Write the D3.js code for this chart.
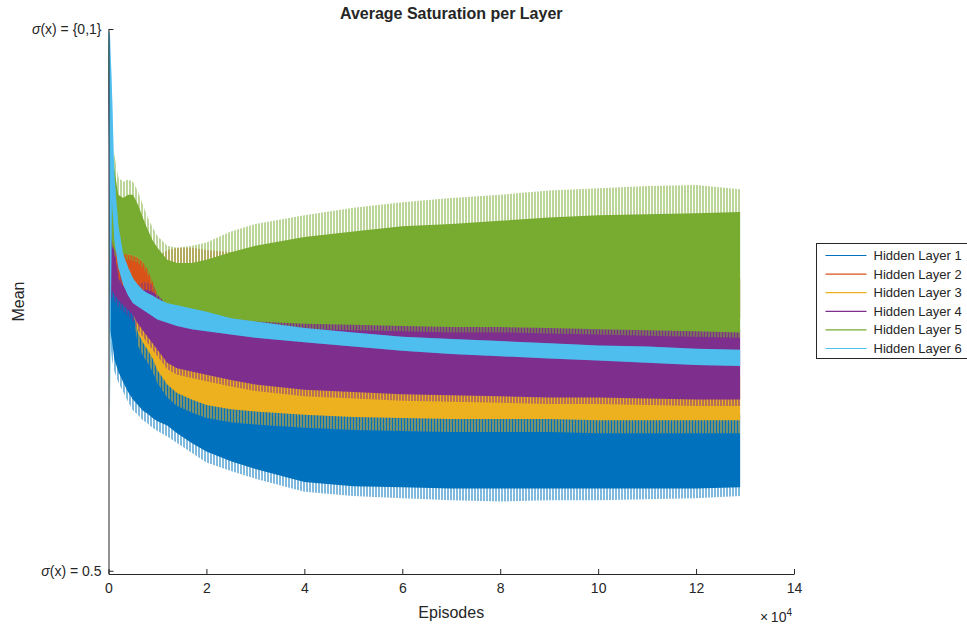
<!DOCTYPE html>
<html>
<head>
<meta charset="utf-8">
<script src="https://cdn.jsdelivr.net/npm/d3@7/dist/d3.min.js"></script>
<style>
  body { margin: 0; background: #fff; }
  svg text { font-family: "Liberation Sans", Arial, Helvetica, sans-serif; fill: #262626; }
</style>
</head>
<body>
<div id="chart"></div>
<script>
// episodes sampled along the x axis
const episodes = [0, 300, 700, 1200, 2000, 3000, 4000, 5000, 6000, 7000, 8000, 9000, 10000, 12000, 14000, 17000, 20000, 25000, 30000, 40000, 50000, 60000, 70000, 80000, 90000, 100000, 110000, 120000, 129000];

const layerNames = ['Hidden Layer 1', 'Hidden Layer 2', 'Hidden Layer 3', 'Hidden Layer 4', 'Hidden Layer 5', 'Hidden Layer 6'];
const layerColors = ['#0072BD', '#D95319', '#EDB120', '#7E2F8E', '#77AC30', '#4DBEEE'];

// hi / lo = dense part of the noisy band, peak / dip = spike extremes
const layer1Hi = [0.995, 0.916, 0.796, 0.782, 0.773, 0.764, 0.759, 0.750, 0.745, 0.739, 0.732, 0.722, 0.713, 0.699, 0.690, 0.681, 0.672, 0.662, 0.658, 0.650, 0.648, 0.644, 0.644, 0.644, 0.644, 0.644, 0.644, 0.644, 0.644];
const layer1Lo = [0.985, 0.722, 0.713, 0.695, 0.684, 0.674, 0.665, 0.658, 0.653, 0.648, 0.645, 0.641, 0.638, 0.634, 0.627, 0.618, 0.610, 0.601, 0.594, 0.582, 0.578, 0.577, 0.576, 0.576, 0.576, 0.576, 0.576, 0.576, 0.577];
const layer1Dip = [0.981, 0.713, 0.695, 0.684, 0.674, 0.665, 0.656, 0.648, 0.644, 0.639, 0.636, 0.632, 0.629, 0.624, 0.618, 0.609, 0.600, 0.592, 0.585, 0.573, 0.569, 0.567, 0.565, 0.564, 0.565, 0.565, 0.566, 0.567, 0.569];

const layer2Hi = [0.995, 0.888, 0.824, 0.801, 0.796, 0.794, 0.792, 0.791, 0.789, 0.785, 0.781, 0.780, 0.778, 0.778, 0.778, 0.776, 0.774, 0.772, 0.770, 0.770, 0.770, 0.770, 0.770, 0.770, 0.770, 0.770, 0.770, 0.770, 0.770];
const layer2Lo = [0.985, 0.759, 0.768, 0.764, 0.759, 0.757, 0.755, 0.754, 0.752, 0.750, 0.748, 0.746, 0.745, 0.743, 0.741, 0.739, 0.736, 0.733, 0.733, 0.733, 0.733, 0.733, 0.733, 0.733, 0.733, 0.733, 0.733, 0.733, 0.733];
const layer2Peak = [0.999, 0.898, 0.831, 0.808, 0.803, 0.801, 0.800, 0.798, 0.796, 0.792, 0.790, 0.789, 0.789, 0.796, 0.798, 0.798, 0.796, 0.794, 0.785, 0.782, 0.782, 0.782, 0.782, 0.782, 0.782, 0.782, 0.782, 0.782, 0.782];

const layer3Hi = [0.995, 0.888, 0.792, 0.782, 0.770, 0.761, 0.755, 0.750, 0.745, 0.739, 0.733, 0.728, 0.722, 0.713, 0.708, 0.704, 0.699, 0.695, 0.693, 0.689, 0.687, 0.685, 0.684, 0.684, 0.683, 0.682, 0.681, 0.680, 0.680];
const layer3Lo = [0.985, 0.750, 0.762, 0.758, 0.753, 0.748, 0.744, 0.738, 0.720, 0.711, 0.704, 0.696, 0.685, 0.672, 0.664, 0.658, 0.653, 0.649, 0.647, 0.644, 0.642, 0.641, 0.640, 0.640, 0.640, 0.639, 0.639, 0.639, 0.639];
const layer3Dip = [0.985, 0.750, 0.762, 0.758, 0.753, 0.748, 0.744, 0.738, 0.708, 0.699, 0.692, 0.684, 0.673, 0.660, 0.652, 0.646, 0.641, 0.637, 0.635, 0.632, 0.630, 0.629, 0.628, 0.628, 0.628, 0.627, 0.627, 0.627, 0.627];

const layer4Hi = [0.995, 0.842, 0.801, 0.796, 0.770, 0.763, 0.759, 0.757, 0.757, 0.759, 0.759, 0.757, 0.754, 0.750, 0.747, 0.745, 0.743, 0.741, 0.739, 0.736, 0.734, 0.733, 0.732, 0.731, 0.730, 0.728, 0.726, 0.724, 0.722];
const layer4Lo = [0.985, 0.741, 0.759, 0.755, 0.750, 0.745, 0.741, 0.736, 0.728, 0.722, 0.716, 0.710, 0.704, 0.692, 0.687, 0.684, 0.681, 0.676, 0.672, 0.667, 0.665, 0.663, 0.662, 0.661, 0.660, 0.660, 0.659, 0.658, 0.658];
const layer4Peak = [0.999, 0.852, 0.810, 0.805, 0.777, 0.770, 0.766, 0.764, 0.764, 0.766, 0.766, 0.764, 0.762, 0.759, 0.756, 0.754, 0.752, 0.750, 0.748, 0.745, 0.744, 0.743, 0.741, 0.740, 0.739, 0.737, 0.735, 0.733, 0.732];
const layer4Dip = [0.979, 0.735, 0.753, 0.749, 0.744, 0.739, 0.735, 0.730, 0.722, 0.716, 0.710, 0.704, 0.698, 0.686, 0.681, 0.678, 0.675, 0.670, 0.666, 0.661, 0.659, 0.657, 0.656, 0.655, 0.654, 0.654, 0.653, 0.652, 0.652];

const layer5Hi = [0.995, 0.935, 0.884, 0.870, 0.847, 0.844, 0.847, 0.847, 0.838, 0.826, 0.815, 0.805, 0.798, 0.787, 0.784, 0.784, 0.787, 0.794, 0.800, 0.808, 0.813, 0.818, 0.820, 0.823, 0.826, 0.828, 0.829, 0.830, 0.831];
const layer5Lo = [0.985, 0.842, 0.805, 0.796, 0.792, 0.792, 0.792, 0.791, 0.789, 0.785, 0.778, 0.767, 0.755, 0.745, 0.743, 0.739, 0.735, 0.732, 0.730, 0.728, 0.727, 0.726, 0.725, 0.725, 0.724, 0.723, 0.722, 0.721, 0.720];
const layer5Peak = [0.999, 0.944, 0.898, 0.884, 0.863, 0.859, 0.861, 0.859, 0.850, 0.838, 0.826, 0.817, 0.809, 0.800, 0.798, 0.800, 0.803, 0.813, 0.820, 0.828, 0.835, 0.840, 0.844, 0.847, 0.851, 0.853, 0.855, 0.856, 0.852];
const layer5Dip = [0.981, 0.837, 0.800, 0.791, 0.787, 0.787, 0.787, 0.786, 0.784, 0.780, 0.773, 0.762, 0.750, 0.740, 0.738, 0.734, 0.730, 0.727, 0.725, 0.723, 0.722, 0.721, 0.720, 0.720, 0.719, 0.718, 0.717, 0.716, 0.715];

const layer6Hi = [0.999, 0.995, 0.944, 0.865, 0.819, 0.792, 0.780, 0.770, 0.764, 0.759, 0.756, 0.754, 0.751, 0.747, 0.745, 0.742, 0.739, 0.733, 0.730, 0.724, 0.720, 0.716, 0.714, 0.712, 0.710, 0.708, 0.707, 0.705, 0.704];
const layer6Lo = [0.990, 0.648, 0.842, 0.805, 0.780, 0.764, 0.754, 0.747, 0.744, 0.741, 0.738, 0.735, 0.732, 0.729, 0.726, 0.723, 0.721, 0.718, 0.715, 0.711, 0.707, 0.703, 0.700, 0.698, 0.696, 0.694, 0.692, 0.690, 0.689];

const xTicks = [0, 20000, 40000, 60000, 80000, 100000, 120000, 140000];
const yTicks = [0.5, 1];
const yTickLabels = ['= 0.5', '= {0,1}'];

class SaturationChart {

  constructor(_config, _layers) {
    this.config = {
      parentElement: _config.parentElement,
      containerWidth: _config.containerWidth || 967,
      containerHeight: _config.containerHeight || 626,
      margin: { top: 29, bottom: 52, right: 173, left: 108.5 }
    }
    this.layers = _layers;
    this.initVis();
  }

  initVis() {
    let vis = this;

    vis.width = vis.config.containerWidth - vis.config.margin.left - vis.config.margin.right;
    vis.height = vis.config.containerHeight - vis.config.margin.top - vis.config.margin.bottom;

    vis.svg = d3.select(vis.config.parentElement).append('svg')
      .attr('width', vis.config.containerWidth)
      .attr('height', vis.config.containerHeight);

    vis.chart = vis.svg.append('g')
      .attr('transform', `translate(${vis.config.margin.left}, ${vis.config.margin.top})`);

    vis.xScale = d3.scaleLinear()
      .domain([0, 140000])
      .range([0, vis.width]);

    vis.yScale = d3.scaleLinear()
      .domain([0.497, 1.0])
      .range([vis.height, 0]);

    // one area for the spikes, one for the dense core of each noisy series
    vis.spikeArea = d3.area()
      .x(d => vis.xScale(d.ep))
      .y0(d => vis.yScale(d.dip))
      .y1(d => vis.yScale(d.peak));

    vis.coreArea = d3.area()
      .x(d => vis.xScale(d.ep))
      .y0(d => vis.yScale(d.lo))
      .y1(d => vis.yScale(d.hi));

    vis.updateVis();
  }

  updateVis() {
    let vis = this;
    vis.series = vis.layers.map(l => ({
      name: l.name,
      color: l.color,
      rows: episodes.map((ep, i) => ({
        ep: ep,
        hi: l.hi[i],
        lo: l.lo[i],
        peak: (l.peak || l.hi)[i],
        dip: (l.dip || l.lo)[i]
      }))
    }));
    vis.renderVis();
  }

  renderVis() {
    let vis = this;

    // thin vertical hatching stands in for the individual spikes
    vis.svg.append('defs').selectAll('pattern')
      .data(vis.series)
      .join('pattern')
      .attr('id', (d, i) => 'spikes' + i)
      .attr('patternUnits', 'userSpaceOnUse')
      .attr('width', 3)
      .attr('height', 6)
      .append('rect')
      .attr('width', 1)
      .attr('height', 6)
      .attr('fill', d => d.color);

    const band = vis.chart.selectAll('.band')
      .data(vis.series)
      .join('g')
      .attr('class', 'band');

    band.append('path')
      .attr('d', d => vis.spikeArea(d.rows))
      .attr('fill', (d, i) => `url(#spikes${i})`);

    band.append('path')
      .attr('d', d => vis.coreArea(d.rows))
      .attr('fill', d => d.color);

    // axes
    vis.xAxis = d3.axisBottom(vis.xScale)
      .tickValues(xTicks)
      .tickFormat(d => d / 10000)
      .tickSizeInner(-5)
      .tickSizeOuter(0)
      .tickPadding(9);

    vis.yAxis = d3.axisLeft(vis.yScale)
      .tickValues(yTicks)
      .tickFormat('')
      .tickSizeInner(-5)
      .tickSizeOuter(0);

    vis.xAxisGroup = vis.chart.append('g')
      .attr('class', 'axis x-axis')
      .attr('transform', `translate(0, ${vis.height})`)
      .call(vis.xAxis);

    vis.yAxisGroup = vis.chart.append('g')
      .attr('class', 'axis y-axis')
      .call(vis.yAxis);

    vis.svg.selectAll('.axis path, .axis line').attr('stroke', '#262626');
    vis.xAxisGroup.selectAll('text')
      .attr('font-size', 14)
      .attr('fill', '#262626')
      .style('font-family', '"Liberation Sans", Arial, sans-serif');

    // y tick labels with sigma notation
    const yLab = vis.chart.append('g').selectAll('text')
      .data(yTicks)
      .join('text')
      .attr('x', -7)
      .attr('y', d => vis.yScale(d))
      .attr('dy', '0.35em')
      .attr('text-anchor', 'end')
      .attr('font-size', 14);
    yLab.append('tspan').attr('font-style', 'italic').text('\u03C3');
    yLab.append('tspan').text((d, i) => '(x) ' + yTickLabels[i]);

    // exponent label
    const expo = vis.chart.append('text')
      .attr('x', vis.width - 2)
      .attr('y', vis.height + 48)
      .attr('text-anchor', 'end')
      .attr('font-size', 14);
    expo.append('tspan').text('\u00D7\u200910');
    expo.append('tspan').attr('dy', -6).attr('font-size', 10).text('4');

    vis.chart.append('text')
      .attr('x', vis.width / 2)
      .attr('y', vis.height + 44)
      .attr('text-anchor', 'middle')
      .attr('font-size', 16)
      .text('Episodes');

    vis.chart.append('text')
      .attr('transform', `translate(${-vis.config.margin.left + 24}, ${vis.height / 2}) rotate(-90)`)
      .attr('text-anchor', 'middle')
      .attr('font-size', 16)
      .text('Mean');

    vis.svg.append('text')
      .attr('x', vis.config.margin.left + vis.width / 2)
      .attr('y', 19)
      .attr('text-anchor', 'middle')
      .attr('font-size', 16)
      .attr('font-weight', 'bold')
      .attr('fill', '#000')
      .text('Average Saturation per Layer');

    // legend
    const legend = vis.svg.append('g')
      .attr('transform', 'translate(816.5, 243.5)');
    legend.append('rect')
      .attr('width', 170)
      .attr('height', 115)
      .attr('fill', '#fff')
      .attr('stroke', '#262626');
    const item = legend.selectAll('.item')
      .data(vis.series)
      .join('g')
      .attr('class', 'item')
      .attr('transform', (d, i) => `translate(0, ${12 + i * 18.6})`);
    item.append('line')
      .attr('x1', 9).attr('x2', 50)
      .attr('stroke', d => d.color)
      .attr('stroke-width', 1.2);
    item.append('text')
      .attr('x', 57)
      .attr('dy', '0.35em')
      .attr('font-size', 13)
      .text(d => d.name);
  }
}

const layers = [
  { name: layerNames[0], color: layerColors[0], hi: layer1Hi, lo: layer1Lo, dip: layer1Dip },
  { name: layerNames[1], color: layerColors[1], hi: layer2Hi, lo: layer2Lo, peak: layer2Peak },
  { name: layerNames[2], color: layerColors[2], hi: layer3Hi, lo: layer3Lo, dip: layer3Dip },
  { name: layerNames[3], color: layerColors[3], hi: layer4Hi, lo: layer4Lo, peak: layer4Peak, dip: layer4Dip },
  { name: layerNames[4], color: layerColors[4], hi: layer5Hi, lo: layer5Lo, peak: layer5Peak, dip: layer5Dip },
  { name: layerNames[5], color: layerColors[5], hi: layer6Hi, lo: layer6Lo }
];

const chart = new SaturationChart({ parentElement: '#chart' }, layers);
</script>
</body>
</html>
